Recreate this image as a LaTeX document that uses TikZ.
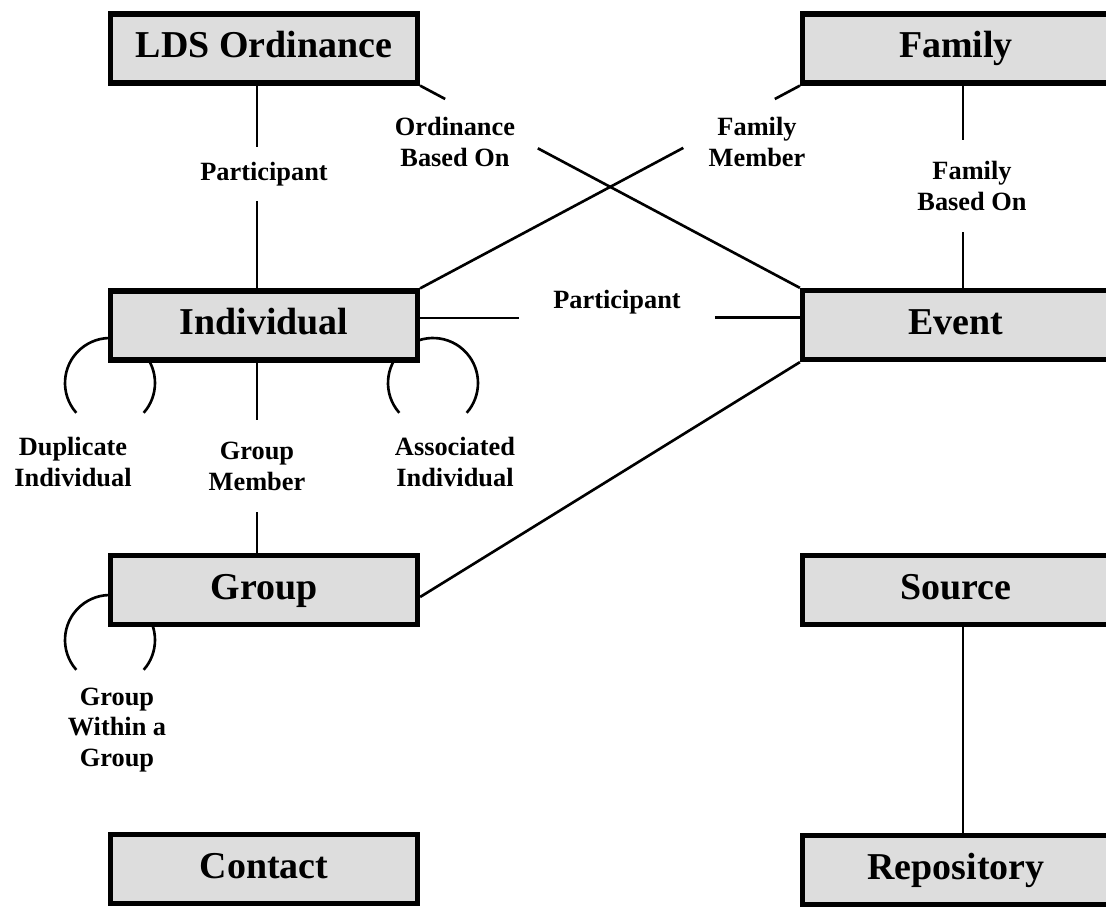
\documentclass[tikz,border=0pt]{standalone}
\usepackage{fontspec}
\setmainfont{Liberation Serif}
\usetikzlibrary{calc,backgrounds}
\definecolor{boxgray}{RGB}{221,221,221}
\tikzset{
  entity/.style={draw, fill=boxgray, line width=3pt, minimum width=6.14cm, minimum height=1.38cm, inner sep=0pt, text height=0.5cm, text depth=0.12cm, font=\fontsize{21.6}{24}\selectfont\bfseries},
  rel/.style={inner sep=0pt, align=center, font=\fontsize{15}{17.6}\selectfont\bfseries},
  link/.style={line width=1.5pt},
}

\begin{document}
\begin{tikzpicture}[x=0.02cm,y=0.02cm]
            \path[use as bounding box, clip] (0,0) rectangle (1106,-909);
            \node[entity] (lds) at (264,-48.5) {LDS Ordinance};
            \node[entity] (fam) at (956,-48.5) {Family};
            \node[entity] (ind) at (264,-325.5) {Individual};
            \node[entity] (ev) at (956,-325) {Event};
            \node[entity] (grp) at (264,-590) {Group};
            \node[entity] (src) at (956,-590) {Source};
            \node[entity] (con) at (264,-869) {Contact};
            \node[entity] (rep) at (956,-870) {Repository};

            \node[rel, minimum height=1.06cm] (pA) at (264,-174) {Participant};
            \node[rel, minimum height=1.84cm] (fb) at (972,-186) {Family\\Based On};
            \node[rel, minimum height=1.84cm] (gm) at (257,-466) {Group\\Member};
            \node[rel, minimum width=3.9cm] (pB) at (617,-302) {Participant};
            \node[rel] (ob) at (455,-142) {Ordinance\\Based On};
            \node[rel] (fm) at (757,-142) {Family\\Member};
            \node[rel] (di) at (73,-462) {Duplicate\\Individual};
            \node[rel] (ai) at (455,-462) {Associated\\Individual};
            \node[rel] (gw) at (117,-730) {Group\\Within a\\Group};

            \draw[link] ([xshift=-.14cm]lds.south) -- ([xshift=-.14cm]lds.south |- pA.north);
            \draw[link] ([xshift=-.14cm]ind.north |- pA.south) -- ([xshift=-.14cm]ind.north);
            \draw[link] ([xshift=.14cm]fam.south) -- ([xshift=.14cm]fam.south |- fb.north);
            \draw[link] ([xshift=.14cm]ev.north |- fb.south) -- ([xshift=.14cm]ev.north);
            \draw[link] ([xshift=-.14cm]ind.south) -- ([xshift=-.14cm]ind.south |- gm.north);
            \draw[link] ([xshift=-.14cm]grp.north |- gm.south) -- ([xshift=-.14cm]grp.north);
            \draw[link] ([yshift=.15cm]ind.east) -- ([yshift=.15cm]ind.east -| pB.west);
            \draw[link] ([yshift=.15cm]ev.west -| pB.east) -- ([yshift=.15cm]ev.west);
            \draw[link] (lds.south east) -- ($(lds.south east)!.066!(ev.north west)$);
            \draw[link] ($(lds.south east)!.31!(ev.north west)$) -- (ev.north west);
            \draw[link] (fam.south west) -- ($(fam.south west)!.066!(ind.north east)$);
            \draw[link] ($(fam.south west)!.307!(ind.north east)$) -- (ind.north east);
            \draw[link] (ev.south west) -- ([yshift=-.14cm]grp.east);
            \draw[link] ([xshift=.14cm]src.south) -- ([xshift=.14cm]rep.north);

            \begin{scope}[on background layer]
            \coordinate (dupc) at (110,-383);
            \coordinate (assc) at (433,-383);
            \coordinate (grpc) at (110,-640);
            \foreach \c in {dupc,assc,grpc}
              \draw[link] ([shift={(221.5:0.9cm)}]\c) arc[start angle=221.5, end angle=-41.5, radius=0.9cm];
            \end{scope}
        \end{tikzpicture}
\end{document}
